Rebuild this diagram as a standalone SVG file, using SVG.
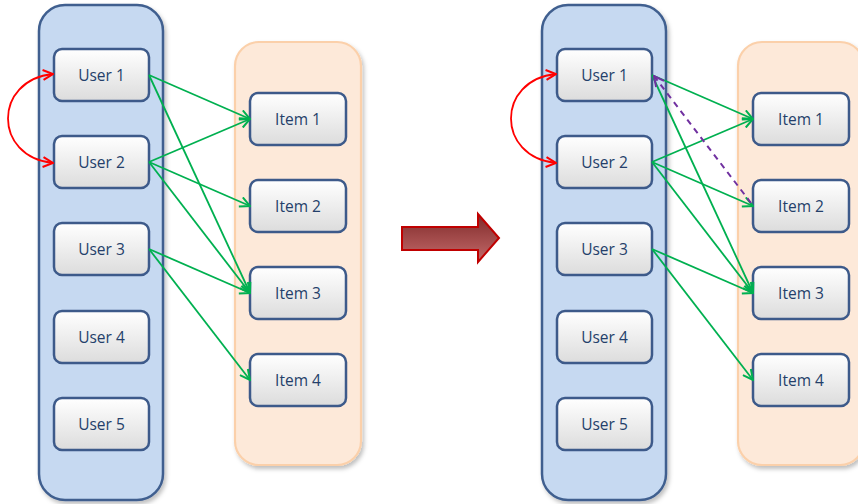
<svg xmlns="http://www.w3.org/2000/svg" width="858" height="504" viewBox="0 0 858 504">
<defs>
<linearGradient id="boxg" x1="0" y1="0" x2="0" y2="1">
<stop offset="0" stop-color="#ffffff"/>
<stop offset="1" stop-color="#dcdcdc"/>
</linearGradient>
<linearGradient id="arrg" x1="0" y1="0" x2="0" y2="1">
<stop offset="0" stop-color="#7f2a2a"/>
<stop offset="1" stop-color="#c46a6a"/>
</linearGradient>
<filter id="sh" x="-20%" y="-10%" width="140%" height="120%">
<feDropShadow dx="2" dy="3" stdDeviation="2" flood-color="#000" flood-opacity="0.25"/>
</filter>
<marker id="ga" viewBox="0 0 12 12" refX="11" refY="6" markerWidth="12" markerHeight="12" markerUnits="userSpaceOnUse" orient="auto">
<path d="M1,1 L11,6 L1,11" fill="none" stroke="#00b050" stroke-width="2"/>
</marker>
<marker id="ra" viewBox="0 0 12 12" refX="11" refY="6" markerWidth="12" markerHeight="12" markerUnits="userSpaceOnUse" orient="auto-start-reverse">
<path d="M1,1 L11,6 L1,11" fill="none" stroke="#ff0000" stroke-width="2"/>
</marker>
<marker id="pa" viewBox="0 0 12 12" refX="11" refY="6" markerWidth="12" markerHeight="12" markerUnits="userSpaceOnUse" orient="auto">
<path d="M1,1 L11,6 L1,11" fill="none" stroke="#7030a0" stroke-width="2"/>
</marker>
</defs>
<style>
.uc{fill:#c6d9f1;stroke:#3f5f8f;stroke-width:2.5}
.ic{fill:#fde9d9;stroke:#fbd0aa;stroke-width:2.2}
.box{fill:url(#boxg);stroke:#3d5a8a;stroke-width:2.5}
.t{font-family:"Open Sans","Liberation Sans",sans-serif;font-size:15.5px;fill:#243f6a;text-anchor:middle;dominant-baseline:central}
.g{stroke:#00b050;stroke-width:1.8;fill:none;marker-end:url(#ga)}
.r{stroke:#ff0000;stroke-width:1.8;fill:none;marker-start:url(#ra);marker-end:url(#ra)}
.p{stroke:#7030a0;stroke-width:2;fill:none;stroke-dasharray:6,5;marker-end:url(#pa)}
</style>

<!-- containers -->
<g id="users-left"><rect class="uc" x="39" y="5" width="124" height="495" rx="26" filter="url(#sh)"/></g>
<g id="items-left"><rect class="ic" x="235" y="42" width="126" height="423" rx="24" filter="url(#sh)"/></g>
<g id="users-right"><rect class="uc" x="542" y="5" width="124" height="495" rx="26" filter="url(#sh)"/></g>
<g id="items-right"><rect class="ic" x="738" y="42" width="126" height="423" rx="24" filter="url(#sh)"/></g>

<!-- left nodes -->
<g id="L-user1"><rect class="box" x="54" y="49" width="95" height="52" rx="8"/><text class="t" x="101.5" y="75">User 1</text></g>
<g id="L-user2"><rect class="box" x="54" y="136" width="95" height="52" rx="8"/><text class="t" x="101.5" y="162">User 2</text></g>
<g id="L-user3"><rect class="box" x="54" y="223" width="95" height="52" rx="8"/><text class="t" x="101.5" y="249">User 3</text></g>
<g id="L-user4"><rect class="box" x="54" y="311" width="95" height="52" rx="8"/><text class="t" x="101.5" y="337">User 4</text></g>
<g id="L-user5"><rect class="box" x="54" y="398" width="95" height="52" rx="8"/><text class="t" x="101.5" y="424">User 5</text></g>
<g id="L-item1"><rect class="box" x="250" y="93" width="96" height="52" rx="8"/><text class="t" x="298" y="119">Item 1</text></g>
<g id="L-item2"><rect class="box" x="250" y="180" width="96" height="52" rx="8"/><text class="t" x="298" y="206">Item 2</text></g>
<g id="L-item3"><rect class="box" x="250" y="267" width="96" height="52" rx="8"/><text class="t" x="298" y="293">Item 3</text></g>
<g id="L-item4"><rect class="box" x="250" y="354" width="96" height="52" rx="8"/><text class="t" x="298" y="380">Item 4</text></g>

<!-- right nodes -->
<g id="R-user1"><rect class="box" x="557" y="49" width="95" height="52" rx="8"/><text class="t" x="604.5" y="75">User 1</text></g>
<g id="R-user2"><rect class="box" x="557" y="136" width="95" height="52" rx="8"/><text class="t" x="604.5" y="162">User 2</text></g>
<g id="R-user3"><rect class="box" x="557" y="223" width="95" height="52" rx="8"/><text class="t" x="604.5" y="249">User 3</text></g>
<g id="R-user4"><rect class="box" x="557" y="311" width="95" height="52" rx="8"/><text class="t" x="604.5" y="337">User 4</text></g>
<g id="R-user5"><rect class="box" x="557" y="398" width="95" height="52" rx="8"/><text class="t" x="604.5" y="424">User 5</text></g>
<g id="R-item1"><rect class="box" x="753" y="93" width="96" height="52" rx="8"/><text class="t" x="801" y="119">Item 1</text></g>
<g id="R-item2"><rect class="box" x="753" y="180" width="96" height="52" rx="8"/><text class="t" x="801" y="206">Item 2</text></g>
<g id="R-item3"><rect class="box" x="753" y="267" width="96" height="52" rx="8"/><text class="t" x="801" y="293">Item 3</text></g>
<g id="R-item4"><rect class="box" x="753" y="354" width="96" height="52" rx="8"/><text class="t" x="801" y="380">Item 4</text></g>

<!-- big arrow -->
<g id="transition-arrow"><path d="M402,227 L478,227 L478,214 L499,238 L478,262 L478,250 L402,250 Z" fill="url(#arrg)" stroke="#c00000" stroke-width="2" stroke-linejoin="miter"/></g>

<!-- connectors -->
<g id="connectors">
<path class="r" d="M53,74 C-7,80 -7,157 53,163"/>
<line class="g" x1="149" y1="75" x2="250" y2="119"/>
<line class="g" x1="149" y1="75" x2="250" y2="293"/>
<line class="g" x1="149" y1="162" x2="250" y2="119"/>
<line class="g" x1="149" y1="162" x2="250" y2="206"/>
<line class="g" x1="149" y1="162" x2="250" y2="293"/>
<line class="g" x1="149" y1="249" x2="250" y2="293"/>
<line class="g" x1="149" y1="249" x2="250" y2="380"/>

<path class="r" d="M556,74 C496,80 496,157 556,163"/>
<line class="g" x1="652" y1="75" x2="753" y2="119"/>
<line class="g" x1="652" y1="75" x2="753" y2="293"/>
<line class="g" x1="652" y1="162" x2="753" y2="119"/>
<line class="g" x1="652" y1="162" x2="753" y2="206"/>
<line class="g" x1="652" y1="162" x2="753" y2="293"/>
<line class="g" x1="652" y1="249" x2="753" y2="293"/>
<line class="g" x1="652" y1="249" x2="753" y2="380"/>
<line class="p" x1="751" y1="203" x2="654" y2="76"/>
</g>
</svg>
